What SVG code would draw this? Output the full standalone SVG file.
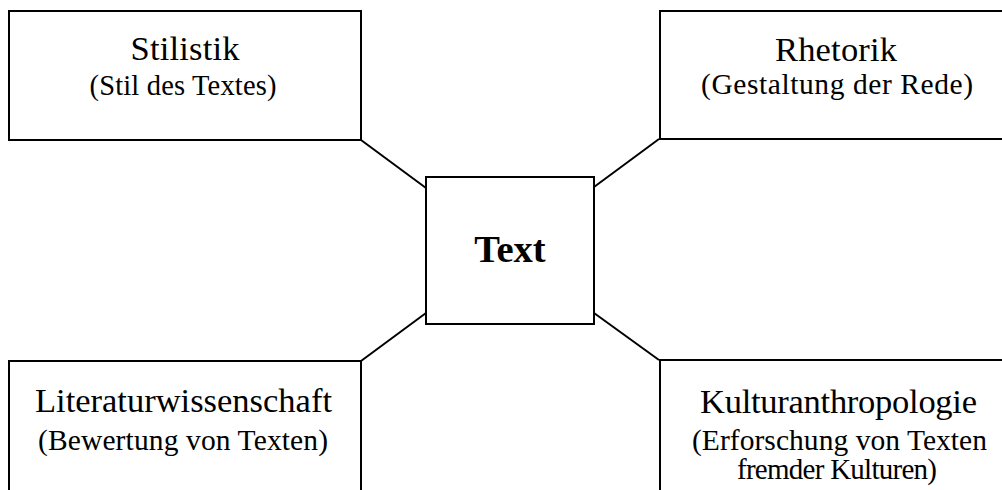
<svg xmlns="http://www.w3.org/2000/svg" width="1002" height="490" viewBox="0 0 1002 490">
<style>
.box{fill:#fff;stroke:#000;stroke-width:2}
.conn line{stroke:#000;stroke-width:2}
.t{font-family:"Liberation Serif","Times New Roman",serif;fill:#000;text-anchor:middle}
.h{font-size:34.5px}
.s{font-size:29.5px}
.b{font-size:38.5px;font-weight:bold}
</style>
<rect width="1002" height="490" fill="#fff"/>
<g id="connectors" class="conn">
<line x1="361" y1="140" x2="426" y2="188"/>
<line x1="659" y1="139" x2="594" y2="187"/>
<line x1="361" y1="361" x2="426" y2="313"/>
<line x1="659" y1="360" x2="594" y2="313"/>
</g>
<g id="stilistik">
<rect class="box" x="9" y="11" width="352" height="129"/>
<text class="t h" x="185" y="60" textLength="109">Stilistik</text>
<text class="t s" x="183" y="95" textLength="187" style="font-size:28.5px">(Stil des Textes)</text>
</g>
<g id="rhetorik">
<rect class="box" x="660" y="11" width="360" height="128"/>
<text class="t h" x="836" y="61" textLength="122">Rhetorik</text>
<text class="t s" x="837" y="94" textLength="272">(Gestaltung der Rede)</text>
</g>
<g id="text">
<rect class="box" x="426" y="177" width="168" height="147"/>
<text class="t b" x="510" y="262">Text</text>
</g>
<g id="literaturwissenschaft">
<rect class="box" x="9" y="361" width="352" height="140"/>
<text class="t h" x="183.5" y="412" textLength="297">Literaturwissenschaft</text>
<text class="t s" x="183" y="450" textLength="290">(Bewertung von Texten)</text>
</g>
<g id="kulturanthropologie">
<rect class="box" x="660" y="360" width="360" height="140"/>
<text class="t h" x="838.5" y="413" textLength="277">Kulturanthropologie</text>
<text class="t s" x="839.5" y="450" textLength="295">(Erforschung von Texten</text>
<text class="t s" x="837" y="479" textLength="200" style="font-size:29px">fremder Kulturen)</text>
</g>
</svg>
